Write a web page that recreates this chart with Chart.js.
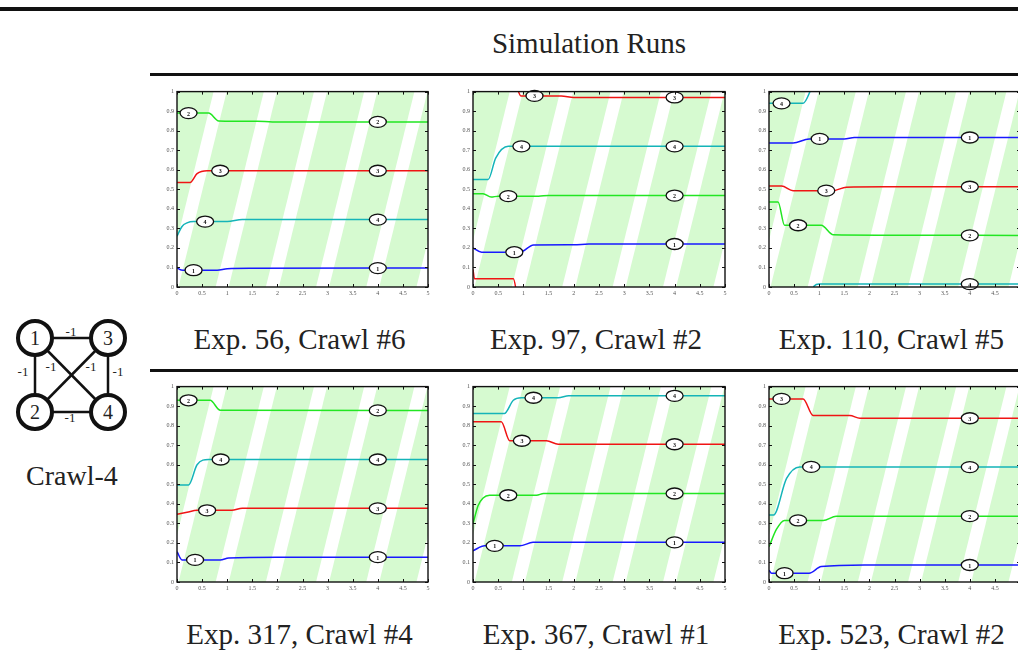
<!DOCTYPE html>
<html>
<head>
<meta charset="utf-8">
<script src="https://cdn.jsdelivr.net/npm/chart.js@4.4.1/dist/chart.umd.min.js"></script>
<style>
  body { margin:0; width:1018px; height:662px; overflow:hidden; background:#fff; position:relative; font-family:"Liberation Serif", serif; color:#222; }
  .rule { position:absolute; background:#111; }
  .cap { position:absolute; width:320px; text-align:center; font-size:29px; line-height:29px; white-space:nowrap; }
  canvas { position:absolute; }
</style>
</head>
<body>
<div class="rule" style="left:0;top:7px;width:1018px;height:4px"></div>
<div class="rule" style="left:150px;top:73px;width:868px;height:2.5px"></div>
<div class="rule" style="left:150px;top:369px;width:868px;height:2.5px"></div>
<div class="cap" style="left:429px;top:29px">Simulation Runs</div>

<svg style="position:absolute;left:0;top:300px" width="150" height="160">
  <g stroke="#111" stroke-width="2.5">
    <line x1="35" y1="38" x2="108" y2="38"/>
    <line x1="35" y1="38" x2="35" y2="112"/>
    <line x1="108" y1="38" x2="108" y2="112"/>
    <line x1="35" y1="112" x2="108" y2="112"/>
    <line x1="35" y1="38" x2="108" y2="112"/>
    <line x1="108" y1="38" x2="35" y2="112"/>
  </g>
  <g fill="#fff" stroke="#111" stroke-width="4">
    <circle cx="35" cy="38" r="17"/><circle cx="108" cy="38" r="17"/>
    <circle cx="35" cy="112" r="17"/><circle cx="108" cy="112" r="17"/>
  </g>
  <g font-family="Liberation Serif" font-size="20" text-anchor="middle" fill="#222">
    <text x="35" y="45">1</text><text x="108" y="45">3</text>
    <text x="35" y="119">2</text><text x="108" y="119">4</text>
  </g>
  <g font-family="Liberation Serif" font-size="13" text-anchor="middle" fill="#222">
    <text x="71" y="36">-1</text><text x="23" y="76">-1</text><text x="118" y="76">-1</text>
    <text x="70" y="122">-1</text><text x="51" y="71">-1</text><text x="91" y="71">-1</text>
  </g>
</svg>
<div class="cap" style="left:-88px;top:461px;font-size:28px">Crawl-4</div>

<script>
// tick values shared by every panel
const xTicks = [0, 0.5, 1, 1.5, 2, 2.5, 3, 3.5, 4, 4.5, 5];
const yTicks = [0, 0.1, 0.2, 0.3, 0.4, 0.5, 0.6, 0.7, 0.8, 0.9, 1];
const nodeColors = ['#1818ff', '#22e622', '#f01414', '#14b4b8'];
const lateLabelT = 4;

// Exp. 56, Crawl #6  -- [time, value] per node
const exp56_n1 = [[0,0.1],[0.05,0.09],[0.12,0.086],[0.8,0.086],[1.0,0.094],[1.5,0.096],[5,0.097]];
const exp56_n2 = [[0,0.89],[0.63,0.89],[0.83,0.85],[1.6,0.848],[1.9,0.845],[5,0.845]];
const exp56_n3 = [[0,0.535],[0.26,0.535],[0.4,0.58],[0.6,0.595],[5,0.595]];
const exp56_n4 = [[0,0.26],[0.1,0.31],[0.2,0.328],[0.33,0.335],[1.0,0.335],[1.3,0.345],[5,0.345]];
const exp56_early = [0.33, 0.23, 0.86, 0.56];

// Exp. 97, Crawl #2
const exp97_n1 = [[0,0.2],[0.17,0.178],[0.93,0.178],[1.2,0.215],[2.0,0.216],[2.3,0.22],[5,0.22]];
const exp97_n2 = [[0,0.477],[0.2,0.477],[0.36,0.46],[0.5,0.465],[1.3,0.465],[1.5,0.468],[5,0.468]];
const exp97_n3a = [[0,0.09],[0.03,0.042],[0.8,0.042],[0.88,-0.05]];
const exp97_n3b = [[0.86,1.03],[0.95,0.978],[1.75,0.978],[2.0,0.97],[5,0.97]];
const exp97_n4 = [[0,0.55],[0.3,0.55],[0.45,0.66],[0.7,0.72],[5,0.72]];
const exp97_early = [0.82, 0.7, 1.22, 0.96];

// Exp. 110, Crawl #5
const exp110_n1 = [[0,0.737],[0.48,0.737],[0.8,0.758],[1.5,0.758],[1.7,0.765],[5,0.765]];
const exp110_n2 = [[0,0.435],[0.18,0.435],[0.31,0.316],[1.04,0.316],[1.28,0.267],[2.2,0.265],[5,0.264]];
const exp110_n3 = [[0,0.517],[0.25,0.517],[0.48,0.493],[1.28,0.493],[1.54,0.511],[2.3,0.513],[5,0.513]];
const exp110_n4a = [[0,0.94],[0.68,0.94],[0.8,0.99],[0.86,1.04]];
const exp110_n4b = [[0.85,-0.03],[0.9,0.005],[1.0,0.015],[5,0.015]];
const exp110_early = [1.01, 0.58, 1.14, 0.25];

// Exp. 317, Crawl #4
const exp317_n1 = [[0,0.155],[0.1,0.113],[0.86,0.113],[1.03,0.123],[2.0,0.127],[5,0.127]];
const exp317_n2 = [[0,0.93],[0.66,0.93],[0.86,0.879],[5,0.878]];
const exp317_n3 = [[0,0.347],[0.2,0.357],[0.4,0.367],[1.09,0.367],[1.3,0.377],[5,0.377]];
const exp317_n4 = [[0,0.497],[0.23,0.497],[0.4,0.6],[0.63,0.627],[5,0.627]];
const exp317_early = [0.36, 0.23, 0.6, 0.87];

// Exp. 367, Crawl #1
const exp367_n1 = [[0,0.16],[0.23,0.185],[0.93,0.185],[1.19,0.203],[5,0.203]];
const exp367_n2 = [[0,0.298],[0.1,0.39],[0.2,0.43],[0.33,0.444],[1.26,0.444],[1.4,0.453],[5,0.453]];
const exp367_n3 = [[0,0.82],[0.56,0.82],[0.73,0.723],[1.46,0.723],[1.69,0.705],[5,0.705]];
const exp367_n4 = [[0,0.862],[0.62,0.862],[0.8,0.93],[0.96,0.943],[1.69,0.943],[1.9,0.953],[5,0.953]];
const exp367_early = [0.43, 0.7, 0.97, 1.2];

// Exp. 523, Crawl #2
const exp523_n1 = [[0,0.06],[0.05,0.045],[0.8,0.045],[1.04,0.079],[1.9,0.087],[5,0.087]];
const exp523_n2 = [[0,0.18],[0.15,0.27],[0.31,0.315],[1.08,0.315],[1.34,0.337],[5,0.337]];
const exp523_n3 = [[0,0.937],[0.68,0.937],[0.88,0.852],[1.61,0.852],[1.81,0.838],[5,0.838]];
const exp523_n4 = [[0,0.343],[0.09,0.343],[0.35,0.53],[0.61,0.589],[5,0.588]];
const exp523_early = [0.31, 0.58, 0.25, 0.84];

const panels = [
  { title: 'Exp. 56, Crawl #6',  left: 177, top: 89,  w: 251, h: 198, series: [[1,exp56_n1],[2,exp56_n2],[3,exp56_n3],[4,exp56_n4]], early: exp56_early },
  { title: 'Exp. 97, Crawl #2',  left: 473, top: 89,  w: 252, h: 198, series: [[1,exp97_n1],[2,exp97_n2],[3,exp97_n3a],[3,exp97_n3b],[4,exp97_n4]], early: exp97_early },
  { title: 'Exp. 110, Crawl #5', left: 769, top: 89,  w: 251, h: 198, series: [[1,exp110_n1],[2,exp110_n2],[3,exp110_n3],[4,exp110_n4a],[4,exp110_n4b]], early: exp110_early },
  { title: 'Exp. 317, Crawl #4', left: 177, top: 384, w: 251, h: 198, series: [[1,exp317_n1],[2,exp317_n2],[3,exp317_n3],[4,exp317_n4]], early: exp317_early },
  { title: 'Exp. 367, Crawl #1', left: 473, top: 384, w: 252, h: 198, series: [[1,exp367_n1],[2,exp367_n2],[3,exp367_n3],[4,exp367_n4]], early: exp367_early },
  { title: 'Exp. 523, Crawl #2', left: 769, top: 384, w: 251, h: 198, series: [[1,exp523_n1],[2,exp523_n2],[3,exp523_n3],[4,exp523_n4]], early: exp523_early }
];

function valueAt(pts, t){
  if (t < pts[0][0] || t > pts[pts.length-1][0]) return null;
  for (let i = 1; i < pts.length; i++){
    if (t <= pts[i][0]){
      const [x0,y0] = pts[i-1], [x1,y1] = pts[i];
      return y0 + (y1 - y0) * (t - x0) / (x1 - x0);
    }
  }
  return null;
}

const panelPlugin = {
  id: 'panelDeco',
  beforeDatasetsDraw(chart){
    const ctx = chart.ctx, a = chart.chartArea, xs = chart.scales.x, ys = chart.scales.y;
    ctx.save();
    ctx.beginPath(); ctx.rect(a.left, a.top, a.width, a.height); ctx.clip();
    ctx.fillStyle = '#d6fad0';
    ctx.fillRect(a.left, a.top, a.width, a.height);
    ctx.fillStyle = '#ffffff';
    const y0 = ys.getPixelForValue(0), y1 = ys.getPixelForValue(1);
    for (let k = -2; k <= 5; k++){
      ctx.beginPath();
      ctx.moveTo(xs.getPixelForValue(k + 0.77), y0);
      ctx.lineTo(xs.getPixelForValue(k + 1.03), y0);
      ctx.lineTo(xs.getPixelForValue(k + 1.99), y1);
      ctx.lineTo(xs.getPixelForValue(k + 1.73), y1);
      ctx.closePath(); ctx.fill();
    }
    ctx.restore();
  },
  afterDatasetsDraw(chart){
    const ctx = chart.ctx, xs = chart.scales.x, ys = chart.scales.y;
    const p = chart.options.plugins.panelDeco;
    ctx.save();
    for (let node = 1; node <= 4; node++){
      [p.early[node-1], lateLabelT].forEach(t => {
        let v = null;
        for (const [n, pts] of p.series){
          if (n !== node) continue;
          const val = valueAt(pts, t);
          if (val !== null && val >= -0.01 && val <= 1.01){ v = val; break; }
        }
        if (v === null) return;
        const px = xs.getPixelForValue(t), py = ys.getPixelForValue(v);
        ctx.beginPath();
        ctx.ellipse(px, py, 8.5, 5.5, 0, 0, Math.PI * 2);
        ctx.fillStyle = '#fff'; ctx.fill();
        ctx.lineWidth = 1.3; ctx.strokeStyle = '#111'; ctx.stroke();
        ctx.fillStyle = '#111';
        ctx.font = 'bold 6px "Liberation Serif"';
        ctx.textAlign = 'center'; ctx.textBaseline = 'middle';
        ctx.fillText(String(node), px, py + 1);
      });
    }
    ctx.restore();
  },
  afterDraw(chart){
    const ctx = chart.ctx, a = chart.chartArea, xs = chart.scales.x, ys = chart.scales.y;
    ctx.save();
    ctx.strokeStyle = '#111'; ctx.lineWidth = 1;
    ctx.beginPath();
    xTicks.forEach(v => {
      const x = Math.round(xs.getPixelForValue(v)) + 0.5;
      ctx.moveTo(x, a.bottom); ctx.lineTo(x, a.bottom - 3);
      ctx.moveTo(x, a.top); ctx.lineTo(x, a.top + 3);
    });
    yTicks.forEach(v => {
      const y = Math.round(ys.getPixelForValue(v)) + 0.5;
      ctx.moveTo(a.left, y); ctx.lineTo(a.left + 3, y);
      ctx.moveTo(a.right, y); ctx.lineTo(a.right - 3, y);
    });
    ctx.stroke();
    ctx.lineWidth = 1.4;
    ctx.strokeRect(a.left, a.top, a.width, a.height);
    ctx.restore();
  }
};

const tickFont = { family: 'Liberation Serif', size: 6 };

panels.forEach(p => {
  const cv = document.createElement('canvas');
  const cw = p.w + 24, ch = p.h + 18;
  cv.width = cw; cv.height = ch;
  cv.style.left = (p.left - 18) + 'px';
  cv.style.top = (p.top - 4) + 'px';
  cv.style.width = cw + 'px'; cv.style.height = ch + 'px';
  document.body.appendChild(cv);

  const cap = document.createElement('div');
  cap.className = 'cap';
  cap.textContent = p.title;
  cap.style.left = (p.left + p.w / 2 - 3 - 160) + 'px';
  cap.style.top = (p.top + p.h + 38) + 'px';
  document.body.appendChild(cap);

  new Chart(cv, {
    type: 'line',
    data: {
      datasets: p.series.map(([n, pts]) => ({
        data: pts.map(([x, y]) => ({ x, y })),
        borderColor: nodeColors[n-1],
        borderWidth: 1.5,
        pointRadius: 0,
        cubicInterpolationMode: 'monotone',
        fill: false
      }))
    },
    options: {
      responsive: false,
      animation: false,
      devicePixelRatio: 1,
      layout: { padding: { top: 4, right: 6, left: 0, bottom: 0 } },
      plugins: {
        legend: { display: false },
        tooltip: { enabled: false },
        panelDeco: { series: p.series, early: p.early }
      },
      scales: {
        x: {
          type: 'linear', min: 0, max: 5,
          afterBuildTicks: s => { s.ticks = xTicks.map(v => ({ value: v })); },
          afterFit: s => { s.height = 14; },
          grid: { display: false, drawTicks: false },
          border: { display: false },
          ticks: { font: tickFont, color: '#555', padding: 3, maxRotation: 0, autoSkip: false, callback: v => String(v) }
        },
        y: {
          min: 0, max: 1,
          afterBuildTicks: s => { s.ticks = yTicks.map(v => ({ value: v })); },
          afterFit: s => { s.width = 18; },
          grid: { display: false, drawTicks: false },
          border: { display: false },
          ticks: { font: tickFont, color: '#555', padding: 3, autoSkip: false, callback: v => String(v) }
        }
      }
    },
    plugins: [panelPlugin]
  });
});
</script>
</body>
</html>
